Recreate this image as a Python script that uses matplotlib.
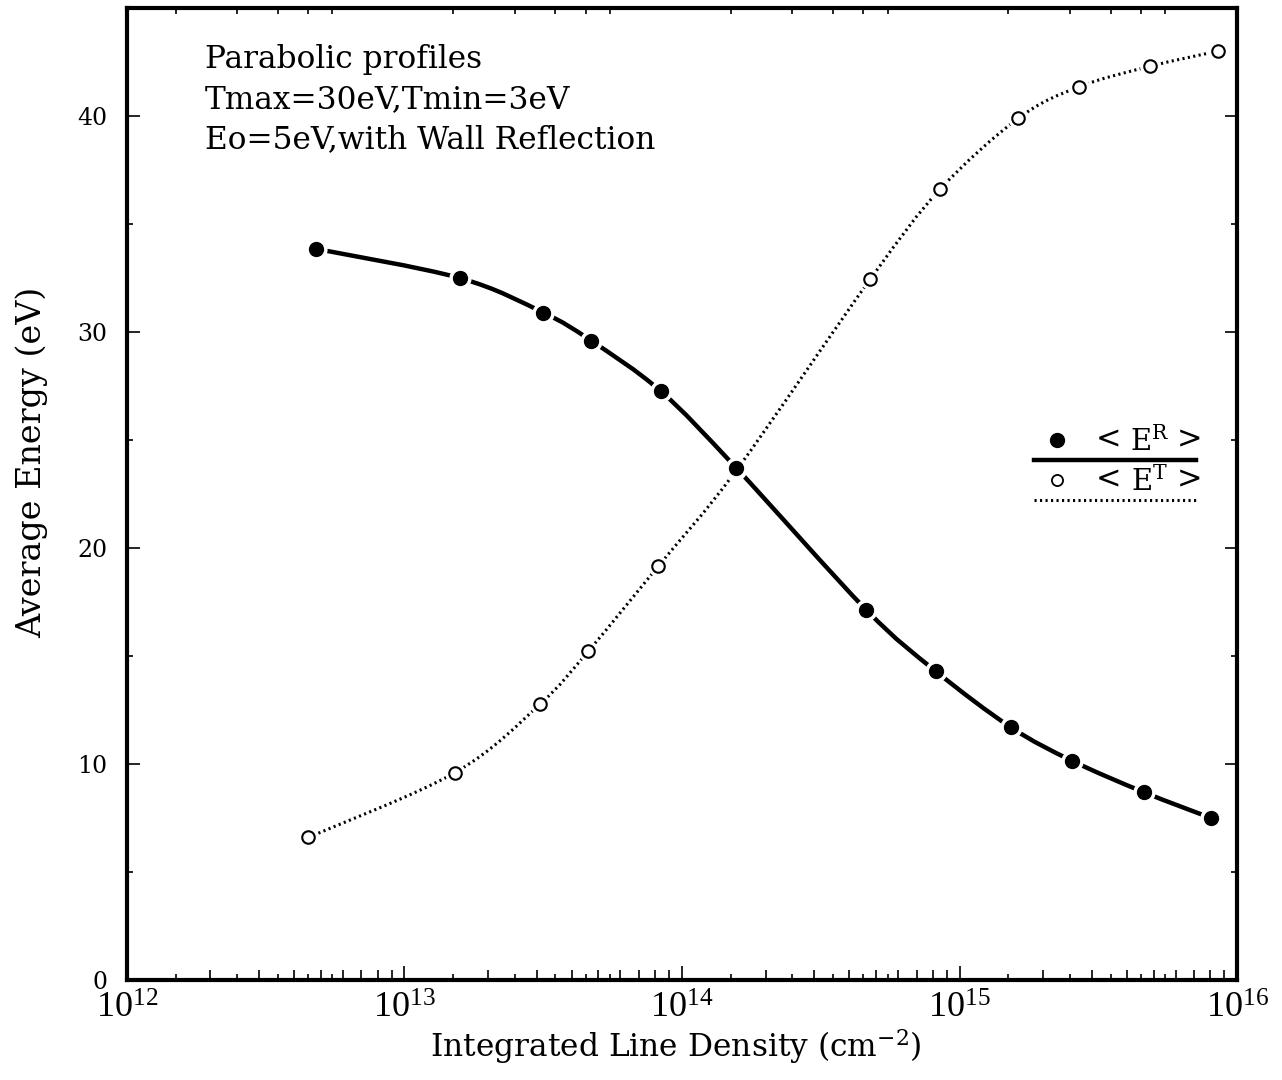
import numpy as np
import matplotlib
matplotlib.use('Agg')
import matplotlib.pyplot as plt
from matplotlib.path import Path
from matplotlib.patches import PathPatch
from matplotlib.ticker import FixedLocator, NullFormatter, FixedFormatter
from matplotlib.lines import Line2D

# ---- data ----
density_R = [4.8e12, 1.58e13, 3.16e13, 4.7e13, 8.4e13, 1.57e14, 4.6e14, 8.2e14, 1.53e15, 2.54e15, 4.6e15, 8.05e15]
energy_R = [33.85, 32.5, 30.9, 29.6, 27.25, 23.7, 17.15, 14.3, 11.7, 10.15, 8.7, 7.5]
density_T = [4.5e12, 1.52e13, 3.08e13, 4.6e13, 8.2e13, 1.57e14, 4.77e14, 8.5e14, 1.63e15, 2.69e15, 4.85e15, 8.5e15]
energy_T = [6.6, 9.6, 12.77, 15.23, 19.15, 23.6, 32.45, 36.6, 39.9, 41.35, 42.3, 43.0]

x_major = [1e12, 1e13, 1e14, 1e15, 1e16]
x_major_labels = [r'$\mathregular{10^{12}}$', r'$\mathregular{10^{13}}$', r'$\mathregular{10^{14}}$',
                  r'$\mathregular{10^{15}}$', r'$\mathregular{10^{16}}$']
y_major = [0, 10, 20, 30, 40]
y_minor = [5, 15, 25, 35, 45]
annotation_lines = ["Parabolic profiles", "Tmax=30eV,Tmin=3eV", "Eo=5eV,with Wall Reflection"]
legend_symbols = [r'$\mathrm{E}^{\mathrm{R}}$', r'$\mathrm{E}^{\mathrm{T}}$']

plt.rcParams['font.family'] = ['DejaVu Serif']
plt.rcParams['mathtext.fontset'] = 'dejavuserif'

fig = plt.figure(figsize=(12.82, 10.8), dpi=100)
ax = fig.add_axes([0.099, 0.0926, 0.866, 0.9])
ax.set_xscale('log')
ax.set_xlim(1e12, 1e16)
ax.set_ylim(0, 45)


def smooth_path(xs, ys):
    u = np.log10(np.asarray(xs, float))
    v = np.asarray(ys, float)
    n = len(u)
    verts = [(u[0], v[0])]
    codes = [Path.MOVETO]
    for i in range(n - 1):
        i0 = max(i - 1, 0)
        i3 = min(i + 2, n - 1)
        c1 = (u[i] + (u[i + 1] - u[i0]) / 6.0, v[i] + (v[i + 1] - v[i0]) / 6.0)
        c2 = (u[i + 1] - (u[i3] - u[i]) / 6.0, v[i + 1] - (v[i3] - v[i]) / 6.0)
        verts += [c1, c2, (u[i + 1], v[i + 1])]
        codes += [Path.CURVE4] * 3
    verts = [(10 ** a, b) for a, b in verts]
    return Path(verts, codes)


dot_style = (0, (0.7, 1.1))

# curves
pR = PathPatch(smooth_path(density_R, energy_R), facecolor='none', edgecolor='black',
               lw=3.2, transform=ax.transData, zorder=2, capstyle='butt')
ax.add_patch(pR)
pT = PathPatch(smooth_path(density_T, energy_T), facecolor='none', edgecolor='black',
               lw=2.2, linestyle=dot_style, transform=ax.transData, zorder=2, capstyle='butt')
ax.add_patch(pT)

# markers with white gaps
ax.plot(density_T, energy_T, linestyle='none', marker='o', ms=14, mfc='white', mec='white', zorder=3)
ax.plot(density_T, energy_T, linestyle='none', marker='o', ms=9, mfc='white', mec='black', mew=1.5, zorder=4)
ax.plot(density_R, energy_R, linestyle='none', marker='o', ms=15, mfc='white', mec='white', zorder=5)
ax.plot(density_R, energy_R, linestyle='none', marker='o', ms=10, mfc='black', mec='black', zorder=6)

# spines
for s in ax.spines.values():
    s.set_linewidth(3.0)

# ticks
ax.xaxis.set_major_locator(FixedLocator(x_major))
ax.xaxis.set_major_formatter(FixedFormatter(x_major_labels))
minors = [m * d for d in [1e12, 1e13, 1e14, 1e15] for m in range(2, 10)]
ax.xaxis.set_minor_locator(FixedLocator(minors))
ax.xaxis.set_minor_formatter(NullFormatter())
ax.yaxis.set_major_locator(FixedLocator(y_major))
ax.yaxis.set_minor_locator(FixedLocator(y_minor))
ax.tick_params(axis='both', which='both', direction='in', top=True, right=True)
ax.tick_params(axis='x', which='major', length=10, width=1.2, labelsize=26, pad=9)
ax.tick_params(axis='x', which='minor', length=7, width=1.2)
ax.tick_params(axis='y', which='major', length=9, width=1.2, labelsize=17, pad=14)
ax.tick_params(axis='y', which='minor', length=4, width=1.2)

for lab in ax.get_xticklabels():
    lab.set_family('Liberation Serif')

# half-ticks via twin axis
ax2 = ax.twiny()
ax2.set_xscale('log')
ax2.set_xlim(1e12, 1e16)
halves = [m * d for d in [1e12, 1e13, 1e14, 1e15] for m in (1.5, 2.5, 3.5, 4.5, 5.5)]
ax2.xaxis.set_major_locator(FixedLocator(halves))
ax2.xaxis.set_major_formatter(NullFormatter())
ax2.xaxis.set_minor_locator(FixedLocator([]))
ax2.tick_params(axis='x', which='both', direction='in', top=True, bottom=True,
                labeltop=False, labelbottom=False, length=4, width=1.2)
for s in ax2.spines.values():
    s.set_visible(False)

ax.set_xlabel(r'Integrated Line Density (cm$^{\mathregular{-2}}$)', fontsize=22.5)
ax.xaxis.set_label_coords(0.494, -0.048)
ax.set_ylabel('Average Energy (eV)', fontsize=24)
ax.yaxis.set_label_coords(-0.071, 0.533)

# annotation
for i, t in enumerate(annotation_lines):
    ax.text(0.0705, 0.9465 - i * 0.0412, t, transform=ax.transAxes, fontsize=22.5,
            ha='left', va='center')

# custom legend
lx0, lx1 = 0.817, 0.963
rows = [0.5556, 0.5144]
for k, yy in enumerate(rows):
    ax.text(0.8845, yy, '<', transform=ax.transAxes, fontsize=22, ha='center', va='center')
    ax.text(0.9215, yy - 0.002, legend_symbols[k], transform=ax.transAxes, fontsize=21,
            ha='center', va='center')
    ax.text(0.957, yy, '>', transform=ax.transAxes, fontsize=22, ha='center', va='center')
ax.plot([0.838], [rows[0]], transform=ax.transAxes, marker='o', ms=10, color='black', linestyle='none')
ax.add_line(Line2D([lx0, lx1], [0.535, 0.535], transform=ax.transAxes, color='black', lw=3.2))
ax.plot([0.838], [rows[1]], transform=ax.transAxes, marker='o', ms=8, mfc='white', mec='black',
        mew=1.3, linestyle='none')
ax.add_line(Line2D([lx0, lx1], [0.4938, 0.4938], transform=ax.transAxes, color='black', lw=2.2,
                   linestyle=dot_style))

fig.savefig('out.png', dpi=100)
